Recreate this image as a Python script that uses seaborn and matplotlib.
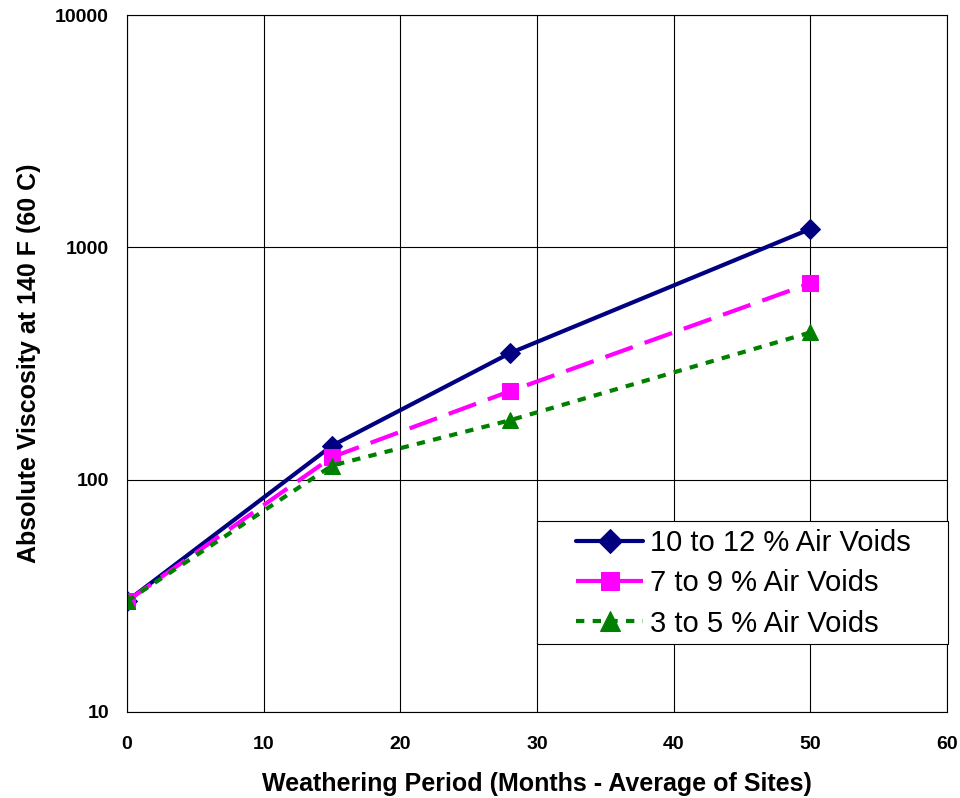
import matplotlib
matplotlib.use("Agg")
import matplotlib.pyplot as plt
from matplotlib.patches import Rectangle
import seaborn as sns
import pandas as pd

months = [0, 15, 28, 50]
visc_10_12 = [30, 140, 350, 1200]
visc_7_9 = [30, 125, 240, 700]
visc_3_5 = [30, 115, 180, 430]
labels = ["10 to 12 % Air Voids", "7 to 9 % Air Voids", "3 to 5 % Air Voids"]

sns.set_style("white")
plt.rcParams['font.family'] = ['Liberation Sans', 'DejaVu Sans']
plt.rcParams.update({"text.color": "black", "axes.labelcolor": "black",
                     "xtick.color": "black", "ytick.color": "black"})

fig = plt.figure(figsize=(9.6, 7.98), dpi=100)
ax = fig.add_axes([0.1323, 0.1078, 0.8542, 0.8734])

series = [
    (visc_10_12, labels[0], "#000080", "D", (None, None), 10.5),
    (visc_7_9, labels[1], "#FF00FF", "s", (7, 3), 11),
    (visc_3_5, labels[2], "#008000", "^", (2, 2), 12),
]
for vals, lab, col, mk, dash, ms in series:
    df = pd.DataFrame({"x": months, "y": vals})
    sns.lineplot(data=df, x="x", y="y", ax=ax, color=col, marker=mk,
                 markersize=ms, markeredgecolor=col, linewidth=3, label=lab)
    line = ax.get_lines()[-1]
    if dash[0] is not None:
        line.set_dashes(dash)

ax.set_yscale("log")
ax.set_xlim(0, 60)
ax.set_ylim(10, 10000)
ax.set_xticks(range(0, 61, 10))
ax.set_yticks([10, 100, 1000, 10000])
ax.set_yticklabels(["10", "100", "1000", "10000"])
ax.minorticks_off()
ax.grid(True, color="black", linewidth=0.8)
for s in ax.spines.values():
    s.set_color("black")
    s.set_linewidth(0.8)
ax.tick_params(axis="both", direction="out", length=5, width=0.8, color="black",
               labelsize=14, labelcolor="black")
ax.tick_params(axis="x", pad=12)
ax.tick_params(axis="y", pad=8)
for t in ax.get_xticklabels() + ax.get_yticklabels():
    t.set_fontweight("bold")
ax.set_xlabel("Weathering Period (Months - Average of Sites)", fontsize=18,
              fontweight="bold", labelpad=14, color="black")
ax.set_ylabel("Absolute Viscosity at 140 F (60 C)", fontsize=18,
              fontweight="bold", labelpad=10, color="black")

# legend frame
frame = Rectangle((537/960, 1-644/798), 411/960, 123/798,
                  transform=fig.transFigure, facecolor="white",
                  edgecolor="black", linewidth=0.8, zorder=4, clip_on=False)
ax.add_patch(frame)
leg = ax.legend(loc="upper left", bbox_to_anchor=(576/960, 1-529/798),
                bbox_transform=fig.transFigure, fontsize=21, frameon=False,
                handlelength=2.3, borderpad=0.0, labelspacing=0.42,
                handletextpad=0.25, borderaxespad=0, markerscale=1.2)
leg.set_zorder(5)

fig.savefig("out.png", dpi=100)
